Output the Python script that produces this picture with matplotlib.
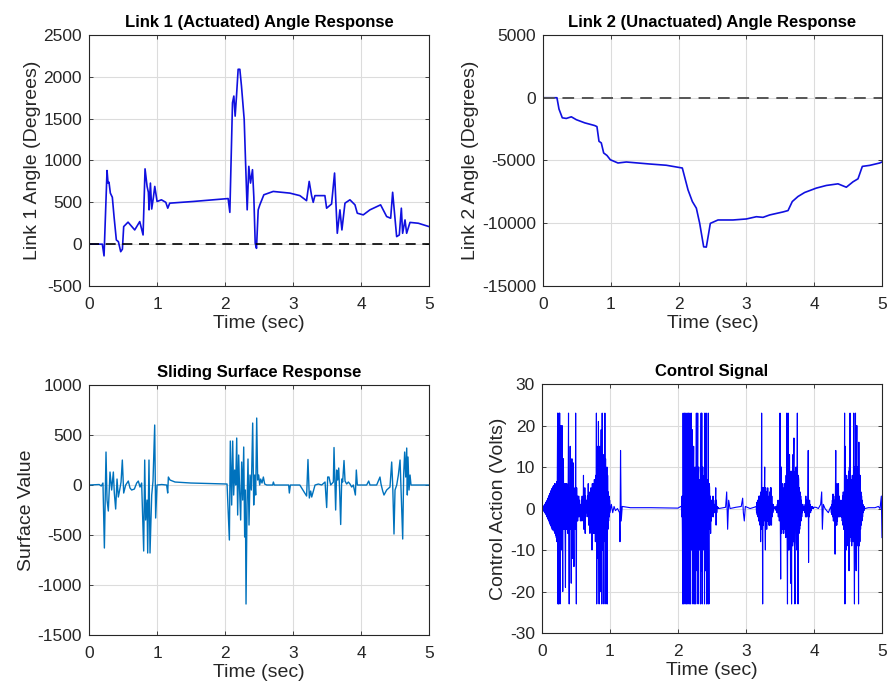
import numpy as np
import matplotlib
matplotlib.use('Agg')
import matplotlib.pyplot as plt

# --- Daten ---
link1_t = [0.000, 0.196, 0.221, 0.265, 0.280, 0.294, 0.314, 0.343, 0.368, 0.402,
           0.432, 0.466, 0.491, 0.510, 0.574, 0.672, 0.746, 0.795, 0.824, 0.854,
           0.873, 0.883, 0.903, 0.922, 0.947, 0.967, 1.001, 1.065, 1.129, 1.158,
           1.187, 1.531, 2.046, 2.071, 2.110, 2.130, 2.149, 2.169, 2.193, 2.218,
           2.242, 2.282, 2.301, 2.326, 2.350, 2.375, 2.404, 2.424, 2.444, 2.463,
           2.488, 2.512, 2.571, 2.709, 2.954, 3.101, 3.199, 3.238, 3.273, 3.297,
           3.322, 3.469, 3.494, 3.567, 3.611, 3.651, 3.690, 3.719, 3.764, 3.837,
           3.911, 3.945, 4.033, 4.131, 4.288, 4.377, 4.436, 4.465, 4.524, 4.563,
           4.593, 4.612, 4.647, 4.671, 4.720, 4.843, 5.000]
link1_deg = [0, 0, -140, 880, 730, 740, 610, 560, 330, 50,
             30, -90, -60, 210, 263, 170, 270, 110, 900, 690,
             620, 410, 730, 420, 560, 690, 510, 530, 500, 430,
             490, 510, 545, 380, 1690, 1770, 1530, 1770, 2090, 2090,
             1890, 1490, 1010, 410, 930, 730, 890, 560, 10, -50,
             410, 470, 590, 630, 610, 580, 520, 750, 580, 500,
             580, 580, 430, 480, 850, 130, 410, 170, 490, 530,
             470, 370, 350, 410, 470, 330, 310, 620, 90, 110,
             430, 130, 290, 130, 260, 250, 210]

link2_t = [0.000, 0.206, 0.236, 0.285, 0.344, 0.418, 0.492, 0.615, 0.762, 0.796,
           0.826, 0.860, 0.895, 0.944, 0.993, 1.106, 1.229, 1.573, 1.819, 2.055,
           2.139, 2.203, 2.262, 2.311, 2.370, 2.409, 2.439, 2.468, 2.581, 2.802,
           2.999, 3.147, 3.245, 3.343, 3.540, 3.614, 3.677, 3.761, 3.859, 4.031,
           4.179, 4.351, 4.474, 4.572, 4.646, 4.710, 4.818, 4.966, 5.000]
link2_deg = [0, 0, -900, -1600, -1650, -1520, -1750, -2000, -2215, -2300,
             -3470, -3600, -4400, -4600, -4940, -5200, -5120, -5280, -5380, -5600,
             -7340, -8270, -8800, -10000, -11880, -11900, -10950, -10010, -9740, -9740,
             -9660, -9480, -9530, -9340, -9100, -8990, -8270, -7870, -7550, -7200,
             -6990, -6860, -7130, -6700, -6460, -5470, -5390, -5200, -5120]

surf_t = [0.000, 0.150, 0.180, 0.205, 0.226, 0.250, 0.265, 0.284, 0.309, 0.333,
          0.358, 0.372, 0.392, 0.412, 0.431, 0.451, 0.471, 0.490, 0.510, 0.539,
          0.578, 0.603, 0.627, 0.667, 0.701, 0.725, 0.750, 0.774, 0.804, 0.819,
          0.833, 0.853, 0.863, 0.882, 0.897, 0.922, 0.941, 0.966, 0.980, 1.000,
          1.069, 1.142, 1.157, 1.167, 1.191, 1.265, 1.500, 1.900, 2.030,
          2.064, 2.078, 2.098, 2.113, 2.127, 2.142, 2.157, 2.172, 2.186, 2.201,
          2.216, 2.230, 2.245, 2.260, 2.275, 2.289, 2.299, 2.309, 2.324, 2.338,
          2.353, 2.368, 2.387, 2.407, 2.422, 2.436, 2.451, 2.466, 2.480, 2.495,
          2.510, 2.525, 2.544, 2.564, 2.583, 2.613, 2.701, 2.711, 2.725, 2.936,
          2.946, 2.961, 3.100,
          3.200, 3.220, 3.240, 3.260, 3.275, 3.324, 3.373, 3.422, 3.471, 3.495,
          3.510, 3.529, 3.554, 3.593, 3.603, 3.618, 3.627, 3.642, 3.657, 3.672,
          3.686, 3.701, 3.716, 3.730, 3.750, 3.765, 3.789, 3.814, 3.838, 3.863,
          3.887, 3.917, 3.931, 3.946, 4.083, 4.113, 4.132, 4.230, 4.279, 4.294,
          4.319, 4.338, 4.377, 4.426,
          4.451, 4.466, 4.485, 4.500, 4.525, 4.549, 4.574, 4.588, 4.613, 4.627,
          4.642, 4.657, 4.672, 4.681, 4.691, 4.706, 4.721, 4.735, 5.000]
surf_val = [0, 5, -10, 20, -630, 330, -150, -260, 130, -50,
            130, -80, -240, 60, -120, -50, 30, 250, -80, 0,
            40, -30, -50, -40, 20, 40, -20, 20, -660, 250,
            -350, -150, -680, 250, -680, -100, 40, 600, -330, 0,
            5, 0, -80, 80, 50, 30, 20, 12, 10,
            -550, 440, -200, 440, -100, 150, 0, 470, -300, 300,
            -80, -350, 230, -150, 380, -520, -50, -1190, -200, 260,
            -400, 100, -50, 620, -200, 100, -100, 670, 50, 100,
            0, 60, 20, 80, 10, 0, 0, 30, 0, 0,
            -80, 0, 0,
            -110, 255, -130, -60, -120, 0, 10, 0, 30, -225,
            80, 80, 0, 30, 375, -40, -250, 150, 50, 170,
            -60, -395, 60, 30, 245, 40, 10, 30, 10, -20,
            0, -100, 150, 0, 0, 40, 0, 0, 80, 10,
            -60, -100, -50, -20,
            230, 0, -490, -50, 0, 100, 250, -40, -540, 100,
            330, 80, 370, -100, 280, -50, 100, 0, 0]

# Steuersignal: dichte Abschnitte mit 5 ms Abtastung, dazwischen einzelne Punkte
ctrl_step = 0.005
ctrl_seg_start = [0.00, 2.05, 3.15, 4.25]
ctrl_seg1 = [0, 0.2, -0.3, 0.4, -0.5, 0.6, -0.7, 0.8, -1.0, 1.1,
             -1.2, 1.4, -1.5, 1.7, -1.9, 2.0, -2.2, 2.4, -2.6, 2.8,
             -3.0, 3.2, -3.4, 3.6, -3.8, 4.0, -4.2, 4.4, -4.6, 4.8,
             -5.0, 5.0, -5.2, 5.4, -5.0, 5.6, -5.5, 6.0, -6.0, 5.5,
             -6.5, 6.0, -7.0, 6.5, -8.0, 6, 23, -23, 5, -23,
             23, -6, 23, -23, 5, 20, -6, -10, 5, 20,
             -5, -20, 6, 12, -5, 4, -5, 6, -5, -19,
             6, 4, -5, 6, -5, 4, -6, 5, 23, -6,
             -23, 5, -4, 15, -5, 6, -18, 5, 12, -5,
             -12, 4, 11, -5, -14, 4, -4, 5, -5, 23,
             -5, -23, 5, -3, 3, -3, 2, -2, 3, -1,
             2, -2, 1, -3, 1, -2, 2, -3, 3, -2,
             2, -3, 8, -5, 4, -3, 5, -6, 3, -2,
             2, -1, 2, -1, 3, -2, 6, -4, 4, -3,
             3, -6, 4, -3, 5, -5, 4, -10, 6, -5,
             5, -6, 6, -5, 7, -6, 5, -8, 8, -6,
             23, -23, 7, -12, 15, -8, 21, -7, -23, 8,
             15, -9, -20, 8, 19, -8, -23, 23, -10, 9,
             13, -8, -23, 10, -6, 23, -8, 12, -23, 9,
             -6, 10, -23, 8, -5, 4, -3, 3, -2, 2,
             -1]
ctrl_seg2 = [0.5, -2, 3, -6, -23, 23, -6, -23, 6, 23,
             -5, -23, 6, 23, -6, -23, 5, 23, -8, -23,
             7, 23, -6, -23, 8, 23, -5, -23, 6, 23,
             -10, 7, 19, -8, -23, 6, 15, -7, -23, 8,
             10, -6, -23, 7, 23, -8, -15, 6, 23, -23,
             8, 10, -9, -10, 7, 5, -23, 8, 23, -15,
             23, -23, 7, 10, -10, 5, -6, 8, -23, 23,
             -8, -15, 9, 23, -23, 7, -5, 6, -23, 23,
             -8, -23, 6, 5, -5, 3, -6, 2, -3, 2,
             -2, 1, -1, 3, -2, 2, -1, 1, -1, 0.5,
             0, 5, -4, 2, -1, 0.5, 0, 0.3, 0, 0.2,
             0]
ctrl_seg3 = [0.5, -1, 1.5, -1.5, 2, -2, 2, -3, 3, -3,
             3, -4, 3, -8, 4, -4, 23, -5, 5, -23,
             5, -4, 5, -3, 4, 10, -4, -10, 5, -4,
             4, -5, 4, -3, 5, -3, 2, -4, 3, -4,
             4, -4, 5, -3, 5, -4, 3, -2, 1, -1,
             1, -0.5, 0.5, 0, 0.3, 0, 0.2, -0.3, 0.5, -0.5,
             0.5, -1, 1, -1, 2, -2, 1, 2, -3, 3,
             23, -4, -17, 5, 10, -6, 5, -5, 6, -5,
             4, -6, 5, -4, 6, -5, 6, -7, 8, -6,
             23, -8, -23, 9, 23, -10, 8, -10, 13, -9,
             8, -18, 9, 8, -23, 9, 7, -9, 13, -8,
             10, 17, -8, -10, -23, 9, 8, 10, -8, -10,
             9, 23, -8, -23, 8, 7, -6, 5, -5, 4,
             -4, 3, -3, 2, -2, 1, -1, 1, -0.5, 0.5,
             0, -0.5, 0.5, -1, 1, -2, 3, -2, 2, -2,
             1, -1, 3, 14, -13, 2, -2, 2, -1, 1,
             -1, 0.5, -0.5, 0.5, 0, 0.5, 0, 0.3, 0, 0.3,
             0.3]
ctrl_seg4 = [0.5, -1, 1, -1.5, 2, -2, 3.5, -3, 3, -3,
             2, -3, -11, 4, 14, -4, 5, -4, 6, -3,
             5, -2, 6, -2, 3, -2, 1, -1, 2, -2,
             1, -2, 2, -3, 3, -4, 4, -5, 3, -4,
             23, -23, 15, -8, 7, -10, 8, -9, 7, -7,
             7, -8, 9, -15, 10, -8, 23, -7, 8, -6,
             5, -9, 7, -6, 8, -8, 9, 23, -10, -23,
             10, -9, 23, -8, -15, 9, 20, -8, 10, -9,
             10, -23, 16, -9, 8, -8, 8, -5, 4, -4,
             3, -3, 2, -2, 1, -1, 0.5, -0.5, 0.5, 0,
             0]
ctrl_gap_t = [1.020, 1.040, 1.060, 1.080, 1.110, 1.140, 1.147, 1.155, 1.165, 1.180,
              1.300, 1.600, 2.000, 2.040,
              2.700, 2.716, 2.730, 2.745, 2.765, 2.850, 2.930, 2.951, 2.961, 2.975,
              2.990, 3.060, 3.120,
              4.030, 4.064, 4.098, 4.113, 4.123, 4.137, 4.162, 4.211, 4.235,
              4.800, 4.897, 4.946, 4.971, 4.990, 5.000]
ctrl_gap_volt = [1, -1, 0.5, -0.5, 0, -1, -8, 14, -3, 0.5,
                 0.2, 0.2, 0.1, 0.5,
                 0.3, 4, -5, 2, 0, 0.3, 0.5, 2.5, -1, -3,
                 0.5, 0, 0.3,
                 0.3, 0, 1, 4, -5, 1, 0, -1, 0,
                 0.2, 0.2, 0.5, 0, 3, -7]

time_ticks = [0, 1, 2, 3, 4, 5]

# Steuersignal zusammensetzen
ctrl_t = list(ctrl_gap_t)
ctrl_volt = list(ctrl_gap_volt)
for t0, seg in zip(ctrl_seg_start, [ctrl_seg1, ctrl_seg2, ctrl_seg3, ctrl_seg4]):
    ctrl_t += list(t0 + ctrl_step * np.arange(len(seg)))
    ctrl_volt += seg
order = np.argsort(ctrl_t, kind='stable')
ctrl_t = np.array(ctrl_t)[order]
ctrl_volt = np.array(ctrl_volt)[order]

plt.rcParams['font.family'] = ['Liberation Sans', 'DejaVu Sans']
plt.rcParams['axes.unicode_minus'] = False

fig = plt.figure(figsize=(8.91, 6.94), dpi=100)

axes_pos = [
    [0.0999, 0.5879, 0.3816, 0.3617],
    [0.6094, 0.5879, 0.3805, 0.3617],
    [0.0999, 0.0850, 0.3816, 0.3602],
    [0.6083, 0.0879, 0.3816, 0.3587],
]
axs = [fig.add_axes(p) for p in axes_pos]

text_col = '#262626'


def style_axis(ax, title, ylabel, ylim, yticks):
    ax.set_xlim(0, 5)
    ax.set_ylim(*ylim)
    ax.set_xticks(time_ticks)
    ax.set_yticks(yticks)
    ax.grid(True, color='#dcdcdc', linewidth=0.8)
    ax.set_axisbelow(True)
    ax.tick_params(direction='in', length=3, width=0.6, top=True, right=True,
                   labelsize=12.5, colors=text_col)
    ax.tick_params(axis='x', pad=8)
    ax.tick_params(axis='y', pad=5)
    for sp in ax.spines.values():
        sp.set_color(text_col)
        sp.set_linewidth(0.8)
    ax.set_title(title, fontsize=12, fontweight='bold', color='black', pad=6)
    ax.set_xlabel('Time (sec)', fontsize=14, color=text_col, labelpad=2)
    ax.set_ylabel(ylabel, fontsize=14, color=text_col, labelpad=2)


# Link 1
ax = axs[0]
ax.plot(link1_t, link1_deg, color='#1010e0', linewidth=1.2)
ax.axhline(0, color='black', linestyle=(0, (6, 4)), linewidth=1.2)
style_axis(ax, 'Link 1 (Actuated) Angle Response', 'Link 1 Angle (Degrees)',
           (-500, 2500), np.arange(-500, 2501, 500))

# Link 2
ax = axs[1]
ax.plot(link2_t, link2_deg, color='#1010e0', linewidth=1.2)
ax.axhline(0, color='#555555', linestyle=(0, (6, 4)), linewidth=1.4)
style_axis(ax, 'Link 2 (Unactuated) Angle Response', 'Link 2 Angle (Degrees)',
           (-15000, 5000), np.arange(-15000, 5001, 5000))

# Sliding surface
ax = axs[2]
ax.plot(surf_t, surf_val, color='#0072BD', linewidth=1.0)
style_axis(ax, 'Sliding Surface Response', 'Surface Value',
           (-1500, 1000), np.arange(-1500, 1001, 500))

# Control signal
ax = axs[3]
ax.plot(ctrl_t, ctrl_volt, color='#0000ff', linewidth=0.8)
style_axis(ax, 'Control Signal', 'Control Action (Volts)',
           (-30, 30), np.arange(-30, 31, 10))

plt.savefig('out.png', dpi=100)
